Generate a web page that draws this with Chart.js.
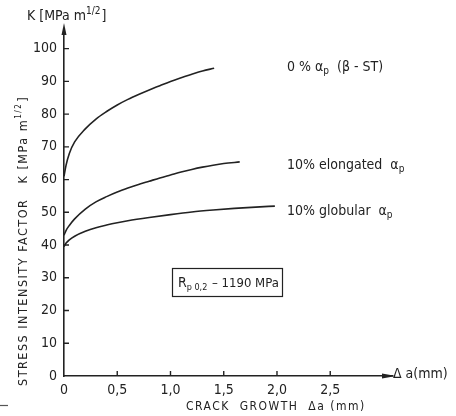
<!DOCTYPE html>
<html>
<head>
<meta charset="utf-8">
<script src="https://cdn.jsdelivr.net/npm/chart.js@4.4.1/dist/chart.umd.min.js"></script>
<style>
html,body{margin:0;padding:0;background:#fff;}
#wrap{width:456px;height:416px;}
</style>
</head>
<body>
<div id="wrap"><canvas id="c" width="456" height="416"></canvas></div>
<script>
// ---- data ----
const xTicks = [0, 0.5, 1.0, 1.5, 2.0, 2.5];
const yTicks = [0, 10, 20, 30, 40, 50, 60, 70, 80, 90, 100];

const beta_x = [0, 0.02, 0.05, 0.1, 0.2, 0.3, 0.4, 0.5, 0.6, 0.7, 0.8, 0.9, 1.0, 1.1, 1.2, 1.3, 1.41];
const beta_K = [61, 64.5, 68, 71.5, 75.5, 78.5, 80.8, 82.8, 84.5, 86, 87.4, 88.7, 90, 91.1, 92.2, 93.2, 94];

const elong_x = [0, 0.02, 0.05, 0.1, 0.2, 0.3, 0.4, 0.5, 0.6, 0.7, 0.8, 0.9, 1.0, 1.1, 1.2, 1.3, 1.4, 1.5, 1.65];
const elong_K = [43, 44.5, 46, 48, 51, 53.2, 54.8, 56.2, 57.4, 58.5, 59.5, 60.5, 61.4, 62.3, 63.1, 63.8, 64.4, 64.9, 65.4];

const glob_x = [0, 0.02, 0.05, 0.1, 0.2, 0.3, 0.4, 0.5, 0.6, 0.8, 1.0, 1.2, 1.4, 1.6, 1.8, 1.98];
const glob_K = [39.5, 40.6, 41.6, 42.7, 44.2, 45.3, 46.1, 46.8, 47.4, 48.4, 49.3, 50.1, 50.7, 51.2, 51.6, 51.9];

const xMax = 3.08, yMax = 106;

function pts(xs, ys){ return xs.map((x,i)=>({x:x, y:ys[i]})); }

const INK = '#222';
const FONT = '"DejaVu Sans Condensed", "DejaVu Sans", sans-serif';
const NARROW = '"Liberation Sans Narrow", "DejaVu Sans Condensed", sans-serif';

function rich(ctx, parts, x, y){
  let cx = x;
  for (const p of parts){
    ctx.font = (p.size||12) + 'px ' + (p.font||FONT);
    ctx.fillText(p.t, cx, y + (p.dy||0));
    cx += ctx.measureText(p.t).width + (p.gap||0);
  }
}

const deco = {
  id: 'deco',
  afterDraw(chart){
    const ctx = chart.ctx;
    const xs = chart.scales.x, ys = chart.scales.y;
    const x0 = xs.getPixelForValue(0), y0 = ys.getPixelForValue(0);
    const top = ys.getPixelForValue(yMax), right = xs.getPixelForValue(xMax);
    ctx.save();
    ctx.strokeStyle = INK; ctx.fillStyle = INK; ctx.lineWidth = 1.4;
    // inside ticks
    ctx.beginPath();
    for (const v of yTicks){ if (v===0) continue; const p = ys.getPixelForValue(v); ctx.moveTo(x0, p); ctx.lineTo(x0+5, p); }
    for (const v of xTicks){ if (v===0) continue; const p = xs.getPixelForValue(v); ctx.moveTo(p, y0); ctx.lineTo(p, y0-5); }
    ctx.stroke();
    // arrows
    ctx.beginPath();
    ctx.moveTo(x0, top-6); ctx.lineTo(x0-2.5, top+6); ctx.lineTo(x0+2.5, top+6); ctx.closePath(); ctx.fill();
    ctx.beginPath();
    ctx.moveTo(right+4, y0); ctx.lineTo(right-10, y0-2.5); ctx.lineTo(right-10, y0+2.5); ctx.closePath(); ctx.fill();

    ctx.textBaseline = 'alphabetic'; ctx.textAlign = 'left';
    // top unit label
    rich(ctx, [{t:'K [MPa m', size:14},{t:'1/2', size:10, dy:-6, gap:1},{t:']', size:14}], 27, 20);
    // axis end label
    rich(ctx, [{t:'\u0394 a(mm)', size:14}], 393, 378);
    // curve labels
    rich(ctx, [{t:'0 % \u03b1', size:14},{t:'p', size:10, dy:3},{t:'  (\u03b2 - ST)', size:14}], 287, 71);
    rich(ctx, [{t:'10% elongated  \u03b1', size:14},{t:'p', size:10, dy:3}], 287, 169);
    rich(ctx, [{t:'10% globular  \u03b1', size:14},{t:'p', size:10, dy:3}], 287, 215);
    // box
    ctx.lineWidth = 1.2;
    ctx.strokeRect(172.5, 268.5, 110, 28);
    rich(ctx, [{t:'R', size:14},{t:'p 0,2', size:9, dy:3, gap:1},{t:' \u2013 1190 MPa', size:13}], 178, 287);
    // x title
    ctx.letterSpacing = '1.5px';
    rich(ctx, [{t:'CRACK  GROWTH  \u0394a (mm)', size:12}], 186, 410);
    // y title (rotated)
    ctx.save();
    ctx.translate(27, 386);
    ctx.rotate(-Math.PI/2);
    rich(ctx, [{t:'STRESS INTENSITY FACTOR   K [MPa m', size:12.5},{t:'1/2', size:8, dy:-6, gap:1},{t:']', size:12.5}], 0, 0);
    ctx.restore();
    ctx.letterSpacing = '0px';
    // scan artifact dash
    ctx.lineWidth = 1.2; ctx.strokeStyle = '#555';
    ctx.beginPath(); ctx.moveTo(0, 405.5); ctx.lineTo(8, 405.5); ctx.stroke();
    ctx.restore();
  }
};

const lineStyle = {borderColor: INK, borderWidth: 1.6, pointRadius: 0, fill: false, showLine: true, cubicInterpolationMode: 'monotone'};

new Chart(document.getElementById('c'), {
  type: 'scatter',
  data: {
    datasets: [
      Object.assign({label: '0% alpha_p (beta-ST)', data: pts(beta_x, beta_K)}, lineStyle),
      Object.assign({label: '10% elongated alpha_p', data: pts(elong_x, elong_K)}, lineStyle),
      Object.assign({label: '10% globular alpha_p', data: pts(glob_x, glob_K)}, lineStyle)
    ]
  },
  options: {
    responsive: false,
    animation: false,
    devicePixelRatio: 1,
    layout: {padding: {top: 29, right: 64, left: 0, bottom: 0}},
    plugins: {legend: {display: false}, tooltip: {enabled: false}},
    scales: {
      x: {
        type: 'linear', min: 0, max: xMax,
        afterFit(s){ s.height = 40; },
        afterBuildTicks(s){ s.ticks = xTicks.map(v=>({value:v})); },
        grid: {display: false, drawTicks: false},
        border: {display: true, color: INK, width: 1.6},
        ticks: {padding: 6, color: INK, font: {family: NARROW, size: 14},
          callback: v => v===0 ? '0' : Number(v).toFixed(1).replace('.', ',')}
      },
      y: {
        type: 'linear', min: 0, max: yMax,
        afterFit(s){ s.width = 64; },
        afterBuildTicks(s){ s.ticks = yTicks.map(v=>({value:v})); },
        grid: {display: false, drawTicks: false},
        border: {display: true, color: INK, width: 1.6},
        ticks: {padding: 7, color: INK, font: {family: NARROW, size: 14}}
      }
    }
  },
  plugins: [deco]
});
</script>
</body>
</html>
